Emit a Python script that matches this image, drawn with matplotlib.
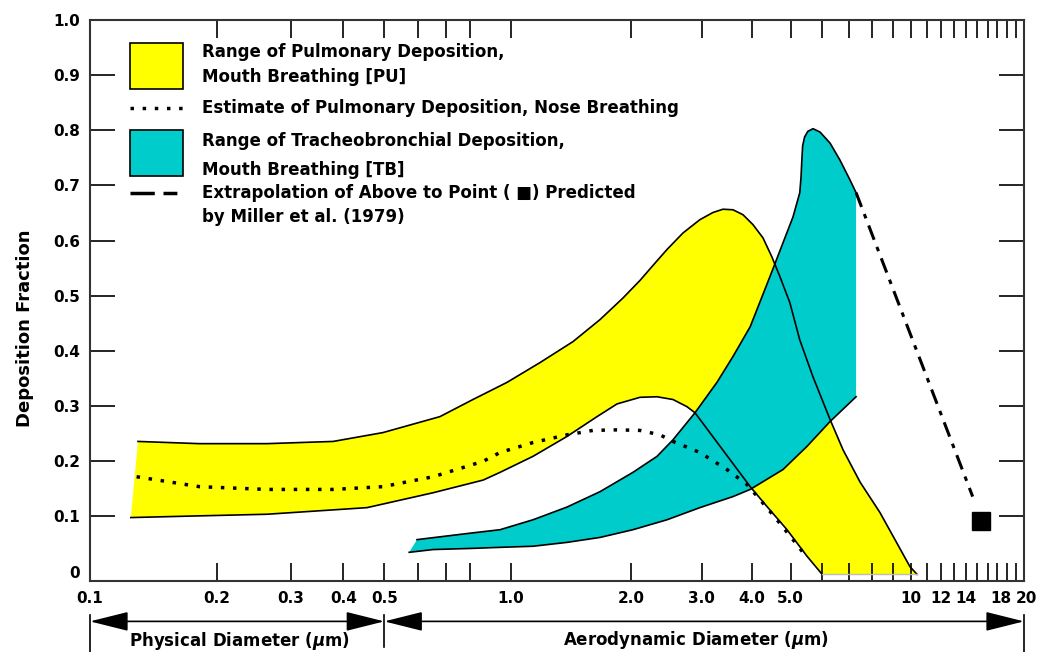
"""
Fração de deposição vs diâmetro da partícula
"""

import numpy as np
import matplotlib.pyplot as plt
from matplotlib.patches import Rectangle
from matplotlib.ticker import NullFormatter
from matplotlib.transforms import ScaledTranslation

# 1. DADOS
# Faixa de deposição pulmonar (PU) - limite superior e inferior
pu_sup_x = [0.130, 0.182, 0.263, 0.378, 0.496, 0.678, 0.812, 0.978, 1.182, 1.429, 1.670, 1.905,
            2.102, 2.264, 2.455, 2.692, 2.966, 3.197, 3.388, 3.589, 3.802, 4.027, 4.266, 4.487,
            4.701, 4.977, 5.272, 5.689, 6.274, 6.761, 7.464, 8.366, 9.12, 9.94, 10.38]
pu_sup_y = [0.236, 0.232, 0.232, 0.236, 0.252, 0.281, 0.312, 0.343, 0.379, 0.417, 0.457, 0.496,
            0.528, 0.555, 0.584, 0.614, 0.638, 0.651, 0.657, 0.656, 0.647, 0.629, 0.605, 0.571,
            0.535, 0.488, 0.420, 0.353, 0.276, 0.221, 0.162, 0.107, 0.058, 0.009, -0.005]
pu_inf_x = [0.125, 0.180, 0.263, 0.455, 0.653, 0.859, 0.942, 1.135, 1.380, 1.641, 1.841, 2.101,
            2.318, 2.541, 2.754, 2.884, 3.963, 4.365, 4.898, 5.495, 5.997, 10.38]
pu_inf_y = [0.098, 0.101, 0.104, 0.116, 0.143, 0.166, 0.180, 0.209, 0.245, 0.281, 0.304, 0.316,
            0.317, 0.312, 0.299, 0.288, 0.154, 0.118, 0.076, 0.028, -0.005, -0.005]

# Faixa de deposição traqueobrônquica (TB)
tb_sup_x = [0.598, 0.786, 0.942, 1.135, 1.380, 1.670, 2.018, 2.318, 2.541, 2.884, 3.272, 3.589,
            3.963, 4.12, 4.441, 4.786, 5.070, 5.272, 5.310, 5.334, 5.360, 5.420, 5.520, 5.689,
            5.922, 6.274, 6.645, 7.040, 7.29]
tb_sup_y = [0.058, 0.069, 0.076, 0.094, 0.117, 0.145, 0.180, 0.209, 0.239, 0.288, 0.343, 0.390,
            0.444, 0.475, 0.535, 0.596, 0.643, 0.687, 0.715, 0.745, 0.772, 0.788, 0.798, 0.803,
            0.797, 0.777, 0.746, 0.710, 0.687]
tb_inf_x = [0.573, 0.653, 0.80, 0.942, 1.135, 1.380, 1.670, 2.018, 2.455, 2.966, 3.589, 3.963,
            4.786, 5.495, 6.274, 7.29]
tb_inf_y = [0.035, 0.040, 0.042, 0.044, 0.046, 0.053, 0.062, 0.076, 0.094, 0.116, 0.136, 0.149,
            0.185, 0.227, 0.272, 0.317]

# Estimativa de deposição pulmonar, respiração nasal
nariz_x = [0.129, 0.182, 0.263, 0.378, 0.496, 0.653, 0.859, 0.942, 1.135, 1.380, 1.603, 1.841,
           2.101, 2.357, 2.541, 2.966, 3.467, 3.890, 4.188, 4.624, 5.070, 5.368]
nariz_y = [0.172, 0.154, 0.149, 0.149, 0.154, 0.172, 0.200, 0.216, 0.234, 0.248, 0.256, 0.257,
           0.256, 0.248, 0.236, 0.216, 0.185, 0.158, 0.131, 0.094, 0.058, 0.035]

# Extrapolação até o ponto de Miller et al. (1979)
extrap_x = [7.29, 14.6]
extrap_y = [0.687, 0.136]
miller_x = [15.4]
miller_y = [0.091]

# Eixos
xticks_val = [0.1, 0.2, 0.3, 0.4, 0.5, 1.0, 2.0, 3.0, 4.0, 5.0, 10, 12, 14, 18, 20]
xticks_txt = ['0.1', '0.2', '0.3', '0.4', '0.5', '1.0', '2.0', '3.0', '4.0', '5.0',
              '10', '12', '14', '18', '20']
xticks_menores = [0.6, 0.7, 0.8, 6, 7, 8, 9, 11, 13, 15, 16, 17, 19]
yticks_val = [0, 0.1, 0.2, 0.3, 0.4, 0.5, 0.6, 0.7, 0.8, 0.9, 1.0]
yticks_txt = ['0', '0.1', '0.2', '0.3', '0.4', '0.5', '0.6', '0.7', '0.8', '0.9', '1.0']

AMARELO = '#FFFF00'
CIANO = '#00CCCC'
PONTILHADO = (0, (1, 2.5))
TRACO_PONTO = (0, (5, 2.5, 1.5, 2.5))

# A escala impressa não é exatamente logarítmica: décadas com larguras diferentes
LOG_ANCORAS = [-10, -1, 0, 1, np.log10(20), 10]
POS_ANCORAS = [-9 * 421, 0, 421, 821, 934, 934 + (10 - np.log10(20)) * 369]


def escala_direta(x):
    x = np.clip(np.asarray(x, dtype=float), 1e-9, None)
    return np.interp(np.log10(x), LOG_ANCORAS, POS_ANCORAS)


def escala_inversa(p):
    return 10 ** np.interp(np.asarray(p, dtype=float), POS_ANCORAS, LOG_ANCORAS)


# 2. FIGURA
plt.rcParams['font.family'] = ['DejaVu Sans']
plt.rcParams['font.weight'] = 'bold'
plt.rcParams['mathtext.default'] = 'it'

fig = plt.figure(figsize=(10.42, 6.52), dpi=100)
ax = fig.add_axes([0.0864, 0.1089, 0.8963, 0.8604])
ax.set_xscale('function', functions=(escala_direta, escala_inversa))

# áreas preenchidas
ax.fill(pu_sup_x + pu_inf_x[::-1], pu_sup_y + pu_inf_y[::-1], color=AMARELO, lw=0)
ax.fill(tb_sup_x + tb_inf_x[::-1], tb_sup_y + tb_inf_y[::-1], color=CIANO, lw=0)

# contornos
ax.plot(pu_sup_x, pu_sup_y, color='k', lw=1.2)
ax.plot(pu_inf_x[:-1], pu_inf_y[:-1], color='k', lw=1.2)
ax.plot(pu_inf_x[-2:], pu_inf_y[-2:], color='#bbbbbb', lw=1.0)
ax.plot(tb_sup_x, tb_sup_y, color='k', lw=1.2)
ax.plot(tb_inf_x, tb_inf_y, color='k', lw=1.2)
ax.plot(nariz_x, nariz_y, color='k', lw=2.5, linestyle=PONTILHADO)
ax.plot(extrap_x, extrap_y, color='k', lw=2.2, linestyle=TRACO_PONTO)
ax.plot(miller_x, miller_y, 's', color='k', ms=13)

ax.set_xlim(0.1, 20)
ax.set_ylim(-0.017, 1.0)

ax.set_xticks(xticks_val, xticks_txt)
ax.set_xticks(xticks_menores, minor=True)
ax.xaxis.set_minor_formatter(NullFormatter())
ax.set_yticks(yticks_val, yticks_txt)

ax.tick_params(axis='x', which='both', direction='in', length=13, width=1.2,
               top=True, labelsize=11, pad=7)
ax.tick_params(axis='y', direction='in', length=18, width=1.2, right=True,
               labelsize=11, pad=7)
for t in (ax.yaxis.get_major_ticks()[0], ax.yaxis.get_major_ticks()[-1]):
    t.tick1line.set_visible(False)
    t.tick2line.set_visible(False)

# "18" e "20" ficam muito juntos: afasta um pouco os rótulos
rotulos = ax.get_xticklabels()
for lbl, dx in ((rotulos[-2], -4), (rotulos[-1], 2)):
    lbl.set_transform(lbl.get_transform() + ScaledTranslation(dx / 72, 0, fig.dpi_scale_trans))

for s in ax.spines.values():
    s.set_linewidth(1.5)
    s.set_color('#333333')

ax.text(-0.0696, 0.451, 'Deposition Fraction', rotation=90, transform=ax.transAxes,
        ha='center', va='center', fontsize=13)

# 3. LEGENDA
ax.add_patch(Rectangle((0.0428, 0.877), 0.0568, 0.082, transform=ax.transAxes,
                       facecolor=AMARELO, edgecolor='k', lw=1.2))
ax.add_patch(Rectangle((0.0428, 0.722), 0.0568, 0.082, transform=ax.transAxes,
                       facecolor=CIANO, edgecolor='k', lw=1.2))
ax.plot([0.0428, 0.0996], [0.843, 0.843], transform=ax.transAxes, color='k',
        lw=2.5, linestyle=PONTILHADO)
ax.plot([0.0428, 0.0996], [0.692, 0.692], transform=ax.transAxes, color='k',
        lw=2.5, linestyle=(0, (7, 2.5, 4, 2.5)))

legenda = [
    (0.943, 'Range of Pulmonary Deposition,'),
    (0.898, 'Mouth Breathing [PU]'),
    (0.843, 'Estimate of Pulmonary Deposition, Nose Breathing'),
    (0.784, 'Range of Tracheobronchial Deposition,'),
    (0.733, 'Mouth Breathing [TB]'),
    (0.692, 'Extrapolation of Above to Point ( \u25a0) Predicted'),
    (0.649, 'by Miller et al. (1979)'),
]
for yy, txt in legenda:
    ax.text(0.120, yy, txt, transform=ax.transAxes, ha='left', va='center', fontsize=12)

# 4. SETAS DO EIXO X
trans = ax.get_xaxis_transform()
seta = dict(arrowstyle='<|-|>,head_length=1.2,head_width=0.3', mutation_scale=20,
            color='k', lw=1.2, shrinkA=0, shrinkB=0)
ax.annotate('', xy=(0.1, -0.072), xytext=(0.5, -0.072), xycoords=trans, textcoords=trans,
            arrowprops=seta, annotation_clip=False)
ax.annotate('', xy=(0.5, -0.072), xytext=(20, -0.072), xycoords=trans, textcoords=trans,
            arrowprops=seta, annotation_clip=False)
ax.plot([0.1, 0.1], [-0.061, -0.13], transform=trans, clip_on=False, color='k', lw=1.2)
ax.plot([0.5, 0.5], [-0.061, -0.118], transform=trans, clip_on=False, color='k', lw=1.2)
ax.plot([20, 20], [-0.061, -0.13], transform=trans, clip_on=False, color='k', lw=1.2)

ax.text(0.1595, -0.107, 'Physical Diameter ($\\mu$m)', transform=ax.transAxes,
        ha='center', va='center', fontsize=12)
ax.text(0.649, -0.105, 'Aerodynamic Diameter ($\\mu$m)', transform=ax.transAxes,
        ha='center', va='center', fontsize=12)

fig.savefig('out.png', dpi=100)
print("Figura salva em 'out.png'")
